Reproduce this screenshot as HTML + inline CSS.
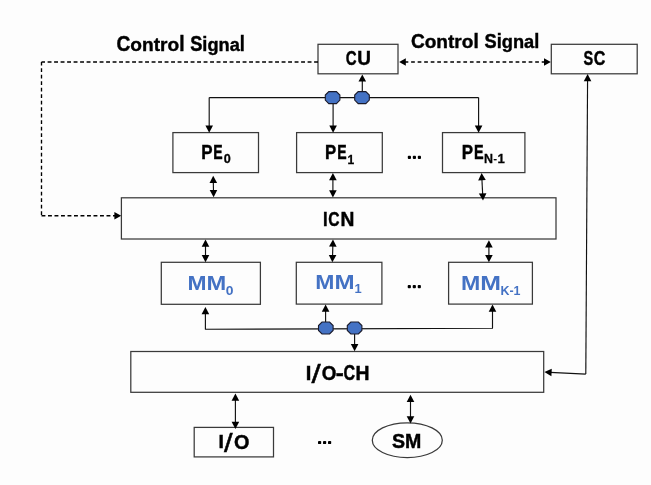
<!DOCTYPE html>
<html><head><meta charset="utf-8"><style>
html,body{margin:0;padding:0;background:#fdfdfd;}
svg{display:block;will-change:transform;}
text{font-family:"Liberation Sans",sans-serif;font-weight:bold;font-kerning:none;}
</style></head><body>
<svg width="651" height="485" viewBox="0 0 651 485">
<rect width="651" height="485" fill="#fdfdfd"/>
<rect x="318.00" y="44.30" width="80.00" height="29.50" fill="none" stroke="#3a3a3a" stroke-width="1.25"/>
<rect x="551.30" y="44.30" width="85.90" height="29.50" fill="none" stroke="#3a3a3a" stroke-width="1.25"/>
<rect x="172.90" y="132.60" width="85.60" height="40.00" fill="none" stroke="#3a3a3a" stroke-width="1.25"/>
<rect x="296.60" y="132.60" width="85.70" height="40.00" fill="none" stroke="#3a3a3a" stroke-width="1.25"/>
<rect x="442.50" y="132.60" width="82.40" height="40.00" fill="none" stroke="#3a3a3a" stroke-width="1.25"/>
<rect x="121.40" y="197.80" width="434.60" height="41.20" fill="none" stroke="#3a3a3a" stroke-width="1.25"/>
<rect x="161.30" y="262.30" width="99.10" height="42.00" fill="none" stroke="#3a3a3a" stroke-width="1.25"/>
<rect x="296.30" y="262.30" width="85.60" height="41.80" fill="none" stroke="#3a3a3a" stroke-width="1.25"/>
<rect x="448.60" y="262.30" width="83.80" height="41.80" fill="none" stroke="#3a3a3a" stroke-width="1.25"/>
<rect x="130.80" y="351.50" width="412.90" height="40.80" fill="none" stroke="#3a3a3a" stroke-width="1.25"/>
<rect x="194.20" y="427.40" width="79.30" height="29.50" fill="none" stroke="#3a3a3a" stroke-width="1.25"/>
<ellipse cx="407.3" cy="440.2" rx="35" ry="17.4" fill="none" stroke="#3a3a3a" stroke-width="1.25"/>
<path d="M318.00,62.00 L41.50,62.00" fill="none" stroke="#000" stroke-width="1.35" stroke-linejoin="round" stroke-dasharray="3.9 2.6" stroke-dashoffset="0"/>
<path d="M41.50,62.00 L41.50,215.70" fill="none" stroke="#000" stroke-width="1.35" stroke-linejoin="round" stroke-dasharray="3.9 2.6" stroke-dashoffset="0.3"/>
<path d="M41.50,215.70 L115.50,215.70" fill="none" stroke="#000" stroke-width="1.35" stroke-linejoin="round" stroke-dasharray="3.9 2.6" stroke-dashoffset="0"/>
<path d="M121.20,215.70L114.40,219.40L114.40,212.00Z" fill="#000"/>
<path d="M404.60,62.00 L544.50,62.00" fill="none" stroke="#000" stroke-width="1.35" stroke-linejoin="round" stroke-dasharray="3.7 2.83" stroke-dashoffset="0"/>
<path d="M399.20,62.00L405.80,58.25L405.80,65.75Z" fill="#000"/>
<path d="M550.80,62.00L544.00,65.75L544.00,58.25Z" fill="#000"/>
<path d="M209.20,97.60 L478.60,97.60" fill="none" stroke="#111" stroke-width="1.15" stroke-linejoin="round"/>
<path d="M209.20,97.60 L209.20,127.04" fill="none" stroke="#111" stroke-width="1.15" stroke-linejoin="round"/><path d="M209.20,132.80L205.40,125.60L213.00,125.60Z" fill="#000"/>
<path d="M333.10,97.60 L333.10,127.04" fill="none" stroke="#111" stroke-width="1.15" stroke-linejoin="round"/><path d="M333.10,132.80L329.30,125.60L336.90,125.60Z" fill="#000"/>
<path d="M478.60,97.60 L478.60,127.04" fill="none" stroke="#111" stroke-width="1.15" stroke-linejoin="round"/><path d="M478.60,132.80L474.80,125.60L482.40,125.60Z" fill="#000"/>
<path d="M362.30,97.50 L362.30,80.16" fill="none" stroke="#111" stroke-width="1.15" stroke-linejoin="round"/><path d="M362.30,74.40L366.10,81.60L358.50,81.60Z" fill="#000"/>
<path d="M328.80,91.60 L336.40,91.60 L339.90,95.10 L339.90,100.10 L336.40,103.60 L328.80,103.60 L325.30,100.10 L325.30,95.10Z" fill="#4472c4" stroke="#1a1a2a" stroke-width="1.1"/>
<path d="M358.20,91.60 L365.80,91.60 L369.30,95.10 L369.30,100.10 L365.80,103.60 L358.20,103.60 L354.70,100.10 L354.70,95.10Z" fill="#4472c4" stroke="#1a1a2a" stroke-width="1.1"/>
<path d="M213.31,181.56 L213.49,191.44" fill="none" stroke="#111" stroke-width="1.15" stroke-linejoin="round"/><path d="M213.20,175.80L217.13,182.93L209.54,183.07Z" fill="#000"/><path d="M213.60,197.20L209.67,190.07L217.26,189.93Z" fill="#000"/>
<path d="M332.90,178.76 L332.90,191.64" fill="none" stroke="#111" stroke-width="1.15" stroke-linejoin="round"/><path d="M332.90,173.00L336.70,180.20L329.10,180.20Z" fill="#000"/><path d="M332.90,197.40L329.10,190.20L336.70,190.20Z" fill="#000"/>
<path d="M481.89,178.75 L482.71,194.85" fill="none" stroke="#111" stroke-width="1.15" stroke-linejoin="round"/><path d="M481.60,173.00L485.76,180.00L478.17,180.38Z" fill="#000"/><path d="M483.00,200.60L478.84,193.60L486.43,193.22Z" fill="#000"/>
<path d="M205.50,245.36 L205.50,256.44" fill="none" stroke="#111" stroke-width="1.15" stroke-linejoin="round"/><path d="M205.50,239.60L209.30,246.80L201.70,246.80Z" fill="#000"/><path d="M205.50,262.20L201.70,255.00L209.30,255.00Z" fill="#000"/>
<path d="M332.85,245.16 L332.55,256.44" fill="none" stroke="#111" stroke-width="1.15" stroke-linejoin="round"/><path d="M333.00,239.40L336.61,246.70L329.01,246.50Z" fill="#000"/><path d="M332.40,262.20L328.79,254.90L336.39,255.10Z" fill="#000"/>
<path d="M488.90,245.96 L488.90,256.44" fill="none" stroke="#111" stroke-width="1.15" stroke-linejoin="round"/><path d="M488.90,240.20L492.70,247.40L485.10,247.40Z" fill="#000"/><path d="M488.90,262.20L485.10,255.00L492.70,255.00Z" fill="#000"/>
<path d="M325.60,328.90 L205.40,329.30 L205.40,312.76" fill="none" stroke="#111" stroke-width="1.15" stroke-linejoin="round"/><path d="M205.40,307.00L209.20,314.20L201.60,314.20Z" fill="#000"/>
<path d="M325.60,328.90 L492.50,328.30 L492.50,310.36" fill="none" stroke="#111" stroke-width="1.15" stroke-linejoin="round"/><path d="M492.50,304.60L496.30,311.80L488.70,311.80Z" fill="#000"/>
<path d="M325.60,328.00 L325.60,310.36" fill="none" stroke="#111" stroke-width="1.15" stroke-linejoin="round"/><path d="M325.60,304.60L329.40,311.80L321.80,311.80Z" fill="#000"/>
<path d="M354.60,328.00 L354.60,345.44" fill="none" stroke="#111" stroke-width="1.15" stroke-linejoin="round"/><path d="M354.60,351.20L350.80,344.00L358.40,344.00Z" fill="#000"/>
<path d="M322.00,322.00 L329.60,322.00 L333.10,325.50 L333.10,330.50 L329.60,334.00 L322.00,334.00 L318.50,330.50 L318.50,325.50Z" fill="#4472c4" stroke="#1a1a2a" stroke-width="1.1"/>
<path d="M350.80,322.00 L358.40,322.00 L361.90,325.50 L361.90,330.50 L358.40,334.00 L350.80,334.00 L347.30,330.50 L347.30,325.50Z" fill="#4472c4" stroke="#1a1a2a" stroke-width="1.1"/>
<path d="M585.80,374.10 L587.57,79.76" fill="none" stroke="#111" stroke-width="1.15" stroke-linejoin="round"/><path d="M587.60,74.00L591.36,81.22L583.76,81.18Z" fill="#000"/>
<path d="M585.80,374.10 L550.15,372.38" fill="none" stroke="#111" stroke-width="1.15" stroke-linejoin="round"/><path d="M544.40,372.10L551.77,368.65L551.41,376.24Z" fill="#000"/>
<path d="M235.40,399.36 L235.40,423.24" fill="none" stroke="#111" stroke-width="1.15" stroke-linejoin="round"/><path d="M235.40,393.60L239.20,400.80L231.60,400.80Z" fill="#000"/><path d="M235.40,429.00L231.60,421.80L239.20,421.80Z" fill="#000"/>
<path d="M410.50,400.56 L410.50,417.64" fill="none" stroke="#111" stroke-width="1.15" stroke-linejoin="round"/><path d="M410.50,394.80L414.30,402.00L406.70,402.00Z" fill="#000"/><path d="M410.50,423.40L406.70,416.20L414.30,416.20Z" fill="#000"/>
<rect x="407.80" y="155.80" width="3.2" height="3.2" rx="0.9" fill="#000"/><rect x="412.80" y="155.80" width="3.2" height="3.2" rx="0.9" fill="#000"/><rect x="417.80" y="155.80" width="3.2" height="3.2" rx="0.9" fill="#000"/>
<rect x="407.70" y="285.00" width="3.2" height="3.2" rx="0.9" fill="#000"/><rect x="412.70" y="285.00" width="3.2" height="3.2" rx="0.9" fill="#000"/><rect x="417.70" y="285.00" width="3.2" height="3.2" rx="0.9" fill="#000"/>
<rect x="318.00" y="440.90" width="3.2" height="3.2" rx="0.9" fill="#000"/><rect x="323.00" y="440.90" width="3.2" height="3.2" rx="0.9" fill="#000"/><rect x="328.00" y="440.90" width="3.2" height="3.2" rx="0.9" fill="#000"/>
<text transform="translate(116.51,50.60) scale(0.9020,1.0000)" font-size="21.22" fill="#000" stroke="#000" stroke-width="0.45">C</text><text transform="translate(130.34,50.60) scale(0.9020,0.8700)" font-size="21.22" fill="#000" stroke="#000" stroke-width="0.45">ontro</text><text transform="translate(179.24,50.60) scale(0.9020,1.0000)" font-size="21.22" fill="#000" stroke="#000" stroke-width="0.45">l</text>
<text transform="translate(190.17,50.60) scale(0.8593,1.0000)" font-size="21.22" fill="#000" stroke="#000" stroke-width="0.45">S</text><text transform="translate(202.34,50.60) scale(0.8593,0.9500)" font-size="21.22" fill="#000" stroke="#000" stroke-width="0.45">i</text><text transform="translate(207.40,50.60) scale(0.8593,0.8700)" font-size="21.22" fill="#000" stroke="#000" stroke-width="0.45">gna</text><text transform="translate(239.82,50.60) scale(0.8593,1.0000)" font-size="21.22" fill="#000" stroke="#000" stroke-width="0.45">l</text>
<text transform="translate(410.92,48.00) scale(0.9117,1.0000)" font-size="20.93" fill="#000" stroke="#000" stroke-width="0.45">C</text><text transform="translate(424.70,48.00) scale(0.9117,0.8700)" font-size="20.93" fill="#000" stroke="#000" stroke-width="0.45">ontro</text><text transform="translate(473.45,48.00) scale(0.9117,1.0000)" font-size="20.93" fill="#000" stroke="#000" stroke-width="0.45">l</text>
<text transform="translate(484.57,48.00) scale(0.8713,1.0000)" font-size="20.93" fill="#000" stroke="#000" stroke-width="0.45">S</text><text transform="translate(496.74,48.00) scale(0.8713,0.9500)" font-size="20.93" fill="#000" stroke="#000" stroke-width="0.45">i</text><text transform="translate(501.80,48.00) scale(0.8713,0.8700)" font-size="20.93" fill="#000" stroke="#000" stroke-width="0.45">gna</text><text transform="translate(534.22,48.00) scale(0.8713,1.0000)" font-size="20.93" fill="#000" stroke="#000" stroke-width="0.45">l</text>
<text transform="translate(345.69,65.21) scale(0.7495,0.9816)" font-size="20.00" fill="#000" stroke="#000" stroke-width="0.45">C</text>
<text transform="translate(357.36,65.21) scale(0.9483,0.9817)" font-size="20.00" fill="#000" stroke="#000" stroke-width="0.45">U</text>
<text transform="translate(583.48,65.10) scale(0.7261,1.0028)" font-size="20.00" fill="#000" stroke="#000" stroke-width="0.45">S</text>
<text transform="translate(593.64,65.10) scale(0.8030,1.0028)" font-size="20.00" fill="#000" stroke="#000" stroke-width="0.45">C</text>
<text transform="translate(201.17,158.60) scale(0.8482,0.9739)" font-size="20.00" fill="#000" stroke="#000" stroke-width="0.45">P</text>
<text transform="translate(213.26,158.60) scale(0.7041,0.9739)" font-size="20.00" fill="#000" stroke="#000" stroke-width="0.45">E</text>
<text transform="translate(223.70,163.48) scale(0.6308,0.6356)" font-size="20.00" fill="#000" stroke="#000" stroke-width="0.45">0</text>
<text transform="translate(324.98,158.60) scale(0.8393,0.9739)" font-size="20.00" fill="#000" stroke="#000" stroke-width="0.45">P</text>
<text transform="translate(337.26,158.60) scale(0.7041,0.9739)" font-size="20.00" fill="#000" stroke="#000" stroke-width="0.45">E</text>
<text transform="translate(347.44,163.70) scale(0.6017,0.6541)" font-size="20.00" fill="#000" stroke="#000" stroke-width="0.45">1</text>
<text transform="translate(461.87,158.60) scale(0.8482,0.9739)" font-size="20.00" fill="#000" stroke="#000" stroke-width="0.45">P</text>
<text transform="translate(473.93,158.60) scale(0.7219,0.9739)" font-size="20.00" fill="#000" stroke="#000" stroke-width="0.45">E</text>
<text transform="translate(484.07,163.20) scale(0.6209,0.6395)" font-size="20.00" fill="#000" stroke="#000" stroke-width="0.45">N</text>
<text transform="translate(493.40,162.04) scale(0.5120,0.4616)" font-size="20.00" fill="#000" stroke="#000" stroke-width="0.45">-</text>
<text transform="translate(497.57,163.20) scale(0.6554,0.6395)" font-size="20.00" fill="#000" stroke="#000" stroke-width="0.45">1</text>
<text transform="translate(323.09,225.80) scale(0.8331,0.9957)" font-size="20.00" fill="#000" stroke="#000" stroke-width="0.45">I</text>
<text transform="translate(328.26,226.10) scale(0.7800,1.0452)" font-size="20.00" fill="#000" stroke="#000" stroke-width="0.45">C</text>
<text transform="translate(340.61,225.80) scale(0.9611,0.9957)" font-size="20.00" fill="#000" stroke="#000" stroke-width="0.45">N</text>
<text transform="translate(187.47,289.70) scale(1.1441,1.0029)" font-size="20.00" fill="#4472c4" stroke="#4472c4" stroke-width="0.0">M</text>
<text transform="translate(206.61,289.70) scale(1.1870,1.0029)" font-size="20.00" fill="#4472c4" stroke="#4472c4" stroke-width="0.0">M</text>
<text transform="translate(225.75,294.87) scale(0.6939,0.6780)" font-size="20.00" fill="#4472c4" stroke="#4472c4" stroke-width="0.0">0</text>
<text transform="translate(315.26,288.90) scale(1.1513,1.0029)" font-size="20.00" fill="#4472c4" stroke="#4472c4" stroke-width="0.0">M</text>
<text transform="translate(334.38,288.90) scale(1.2085,1.0029)" font-size="20.00" fill="#4472c4" stroke="#4472c4" stroke-width="0.0">M</text>
<text transform="translate(354.39,292.60) scale(0.6447,0.6541)" font-size="20.00" fill="#4472c4" stroke="#4472c4" stroke-width="0.0">1</text>
<text transform="translate(461.05,290.20) scale(1.1584,1.0029)" font-size="20.00" fill="#4472c4" stroke="#4472c4" stroke-width="0.0">M</text>
<text transform="translate(480.14,290.20) scale(1.2442,1.0029)" font-size="20.00" fill="#4472c4" stroke="#4472c4" stroke-width="0.0">M</text>
<text transform="translate(500.47,294.70) scale(0.9743,1)" font-size="12.79" fill="#4472c4" stroke="#4472c4" stroke-width="0.0">K-1</text>
<text transform="translate(305.85,379.80) scale(1.0066,1.0175)" font-size="20.00" fill="#000" stroke="#000" stroke-width="0.45">I</text>
<text transform="translate(311.50,382.74) scale(1.6557,1.3072)" font-size="20.00" style="font-weight:normal" fill="#000" stroke="#000" stroke-width="0.35">/</text>
<text transform="translate(321.83,380.09) scale(0.9427,1.0522)" font-size="20.00" fill="#000" stroke="#000" stroke-width="0.45">O</text>
<text transform="translate(335.66,379.96) scale(1.2012,1.0911)" font-size="20.00" fill="#000" stroke="#000" stroke-width="0.45">-</text>
<text transform="translate(343.54,380.09) scale(0.8030,1.0664)" font-size="20.00" fill="#000" stroke="#000" stroke-width="0.45">C</text>
<text transform="translate(355.50,379.80) scale(0.9696,1.0175)" font-size="20.00" fill="#000" stroke="#000" stroke-width="0.45">H</text>
<text transform="translate(218.50,448.40) scale(0.9719,0.9593)" font-size="20.00" fill="#000" stroke="#000" stroke-width="0.45">I</text>
<text transform="translate(224.10,451.55) scale(1.5477,1.2936)" font-size="20.00" style="font-weight:normal" fill="#000" stroke="#000" stroke-width="0.35">/</text>
<text transform="translate(234.09,448.51) scale(0.9931,0.9958)" font-size="20.00" fill="#000" stroke="#000" stroke-width="0.45">O</text>
<text transform="translate(391.94,447.90) scale(0.9693,1)" font-size="20.20" fill="#000" stroke="#000" stroke-width="0.45">SM</text>
</svg>
</body></html>
